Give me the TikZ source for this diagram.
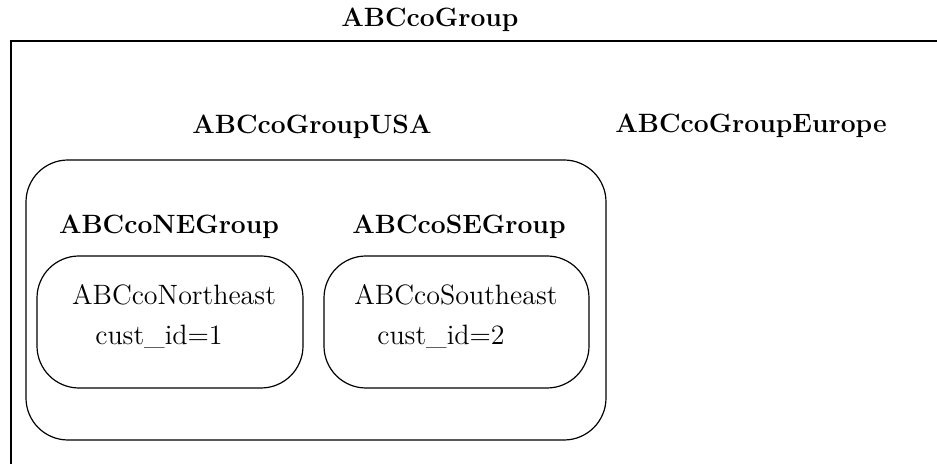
\documentclass[tikz,border=0pt]{standalone}
\begin{document}
\begin{tikzpicture}[x=0.5pt,y=-0.5pt,
  grplabel/.style={font=\fontsize{13.25}{15}\selectfont\bfseries, anchor=base, inner sep=0pt},
  unitlabel/.style={font=\fontsize{14}{16}\selectfont, anchor=base, inner sep=0pt},
  grpbox/.style={draw, line width=0.6pt, rounded corners=21pt, inner sep=0pt}]
\useasboundingbox (0,0) rectangle (937,464);
\clip (0,0) rectangle (937,464);
% Outer frame of the whole group (runs off right and bottom)
\draw[line width=1.1pt] (11,41) rectangle (990,520);
\node[grplabel] (top) at (430,27) {ABCcoGroup};
% Second level
\node[grplabel] (usa) at (312,134) {ABCcoGroupUSA};
\node[grplabel] (europe) at (751,133) {ABCcoGroupEurope};
\node[grpbox, minimum width=290pt, minimum height=140pt] (usabox) at (316,300) {};
% Regional groups inside USA
\node[grplabel] (ne) at (169,234) {ABCcoNEGroup};
\node[grplabel] (se) at (459,234) {ABCcoSEGroup};
\node[grpbox, minimum width=133pt, minimum height=66pt] (nebox) at (170,322) {};
\node[grpbox, minimum width=132.5pt, minimum height=66pt] (sebox) at (456.5,322) {};
% Customers
\node[unitlabel] (northeast) at (174,305) {ABCcoNortheast};
\node[unitlabel] (neid) at (159,345) {cust\_id=1};
\node[unitlabel] (southeast) at (456,305) {ABCcoSoutheast};
\node[unitlabel] (seid) at (441,345) {cust\_id=2};
\end{tikzpicture}
\end{document}
